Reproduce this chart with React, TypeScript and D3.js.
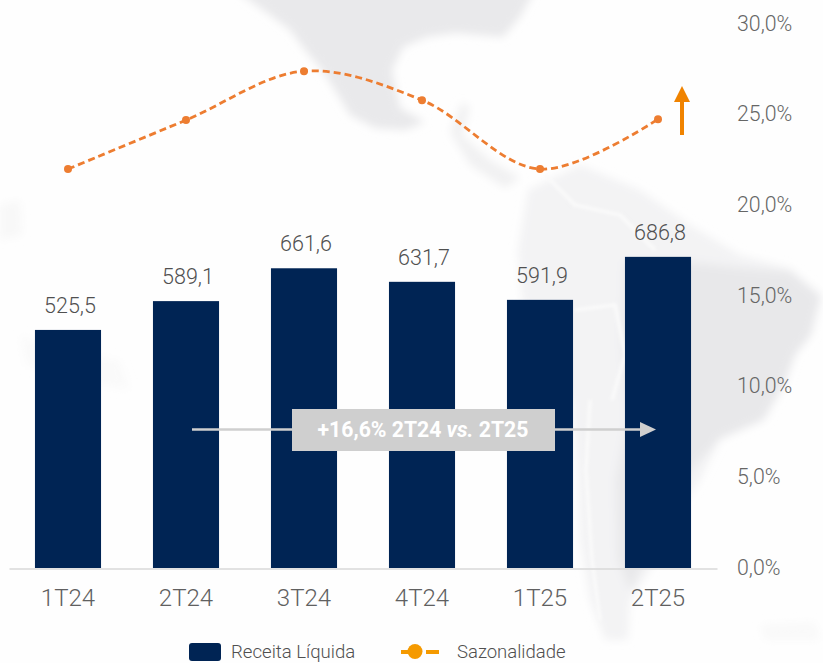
import * as d3 from 'd3'
import { useRef, useEffect } from 'react'

const categories = ['1T24', '2T24', '3T24', '4T24', '1T25', '2T25']
const receita = [525.5, 589.1, 661.6, 631.7, 591.9, 686.8]
const sazonalidade = [22.0, 24.7, 27.4, 25.8, 22.0, 24.75]
const pctTicks = [0, 5, 10, 15, 20, 25, 30]

// background map, rough outlines
const northAmerica: [number, number][] = [[235, -10], [270, 15], [290, 30], [305, 50], [322, 70], [338, 95], [350, 115], [375, 128], [405, 130], [425, 122], [400, 108], [392, 70], [403, 47], [427, 37], [455, 33], [503, 37], [520, 17], [535, -10]]
const centralAmerica: [number, number][] = [[450, 132], [462, 102], [470, 108], [462, 135], [490, 160], [520, 178], [505, 188], [470, 165]]
const southAmerica: [number, number][] = [[528, 190], [580, 165], [640, 190], [690, 225], [740, 255], [790, 268], [822, 295], [812, 335], [795, 355], [785, 385], [765, 420], [720, 440], [700, 480], [672, 520], [650, 570], [630, 600], [628, 640], [605, 640], [590, 600], [580, 540], [578, 480], [572, 400], [548, 360], [522, 300], [518, 250]]
const brazil: [number, number][] = [[625, 262], [690, 262], [740, 268], [790, 272], [820, 297], [810, 335], [795, 355], [783, 385], [762, 420], [720, 438], [690, 470], [665, 510], [645, 560], [630, 590], [618, 560], [616, 480], [628, 420], [622, 340]]
const coastSpecks: [number, number][] = [[20, 335], [60, 350], [120, 360], [130, 390], [100, 385], [60, 375], [25, 365]]
const leftSpeck: [number, number][] = [[0, 205], [20, 200], [22, 235], [0, 240]]
const rightSpeck: [number, number][] = [[760, 625], [815, 622], [820, 640], [765, 640]]
const chileBorder: [number, number][] = [[590, 400], [586, 470], [592, 560], [600, 620]]
const northBorders: [number, number][] = [[545, 175], [575, 205], [620, 215], [655, 250]]
const centralBorder: [number, number][] = [[575, 310], [615, 305], [625, 355], [612, 400]]

export default function App() {
    const svgRef = useRef<SVGSVGElement>(null)
    useEffect(() => {
        const width = 823
        const height = 663
        const fontFamily = 'Roboto, sans-serif'

        const svg = d3.select(svgRef.current)
        svg.selectAll('*').remove()
        svg.attr('width', width)
            .attr('height', height)
            .style('position', 'absolute')
            .style('left', 0)
            .style('top', 0)
            .style('font-family', fontFamily)

        svg.append('rect').attr('width', width).attr('height', height).attr('fill', '#fefefe')

        const defs = svg.append('defs')
        defs.append('filter').attr('id', 'blur')
            .attr('x', '-10%').attr('y', '-10%').attr('width', '120%').attr('height', '120%')
            .append('feGaussianBlur').attr('stdDeviation', 4)
        defs.append('filter').attr('id', 'softBlur')
            .attr('filterUnits', 'userSpaceOnUse')
            .attr('x', 0).attr('y', 0).attr('width', width).attr('height', height)
            .append('feGaussianBlur').attr('stdDeviation', 1.5)

        const mapLine = d3.line().curve(d3.curveLinearClosed)
        const borderLine = d3.line().curve(d3.curveLinear)
        const map = svg.append('g').attr('filter', 'url(#blur)')
        map.append('path').attr('d', mapLine(northAmerica)).attr('fill', '#e9e9eb')
        map.append('path').attr('d', mapLine(centralAmerica)).attr('fill', '#f1f1f2')
        map.append('path').attr('d', mapLine(southAmerica)).attr('fill', '#f3f3f4')
        map.append('path').attr('d', mapLine(brazil)).attr('fill', '#e8e8ea')
        map.append('path').attr('d', mapLine(coastSpecks)).attr('fill', '#fafafa')
        map.append('path').attr('d', mapLine(leftSpeck)).attr('fill', '#f8f8f8')
        map.append('path').attr('d', mapLine(rightSpeck)).attr('fill', '#f9f9f9')
        const borders = [chileBorder, northBorders, centralBorder]
        svg.append('g').attr('filter', 'url(#softBlur)').selectAll('path')
            .data(borders)
            .join('path')
            .attr('d', d => borderLine(d))
            .attr('fill', 'none')
            .attr('stroke', '#fafafa')
            .attr('stroke-width', 3.5)

        const xScale = d3.scaleBand<string>()
            .domain(categories)
            .range([9, 717])
            .paddingInner(0.44)
            .paddingOuter(0.22)
        const yBars = d3.scaleLinear().domain([0, 1203]).range([568, 23])
        const yPct = d3.scaleLinear().domain([0, 30]).range([568, 24])
        const cx = (c: string) => (xScale(c) as number) + xScale.bandwidth() / 2

        const ptBR = d3.formatLocale({ decimal: ',', thousands: '.', grouping: [3], currency: ['R$', ''] })
        const fmt = ptBR.format('.1f')

        // bars
        svg.append('g').selectAll('rect')
            .data(categories)
            .join('rect')
            .attr('x', d => xScale(d) as number)
            .attr('y', (_, i) => yBars(receita[i]))
            .attr('width', xScale.bandwidth())
            .attr('height', (_, i) => 568 - yBars(receita[i]))
            .attr('fill', '#002454')

        svg.append('g').selectAll('text')
            .data(categories)
            .join('text')
            .attr('x', d => cx(d) + 2)
            .attr('y', (_, i) => yBars(receita[i]) - 17)
            .attr('text-anchor', 'middle')
            .attr('font-size', 21.5)
            .attr('font-weight', 300)
            .attr('fill', '#505050')
            .text((_, i) => fmt(receita[i]))

        // x axis
        const xAxis = svg.append('g')
            .attr('transform', 'translate(0,568.5)')
            .call(d3.axisBottom(xScale).tickSize(0).tickPadding(20))
        xAxis.select('.domain').attr('stroke', '#d9d9d9').attr('stroke-width', 1.5)
        xAxis.selectAll('text')
            .attr('font-family', fontFamily)
            .attr('font-size', 24)
            .attr('font-weight', 300)
            .attr('fill', '#606060')

        // right axis, labels left aligned
        const yAxis = svg.append('g')
            .attr('transform', 'translate(737,-0.5)')
            .call(d3.axisRight(yPct).tickValues(pctTicks).tickSize(0).tickPadding(0).tickFormat(d => `${fmt(d as number)}%`))
        yAxis.select('.domain').remove()
        yAxis.selectAll('text')
            .attr('font-family', fontFamily)
            .attr('font-size', 21.3)
            .attr('font-weight', 300)
            .attr('fill', '#666666')

        // seasonality line
        const lineGenerator = d3.line<number>()
            .x((_, i) => cx(categories[i]))
            .y(d => yPct(d))
            .curve(d3.curveCatmullRom.alpha(0.5))
        svg.append('path')
            .attr('d', lineGenerator(sazonalidade))
            .attr('fill', 'none')
            .attr('stroke', '#ed7d31')
            .attr('stroke-width', 2.8)
            .attr('stroke-dasharray', '7 4')
        svg.append('g').selectAll('circle')
            .data(sazonalidade)
            .join('circle')
            .attr('cx', (_, i) => cx(categories[i]))
            .attr('cy', d => yPct(d))
            .attr('r', 4)
            .attr('fill', '#ed7d31')

        // orange arrow
        svg.append('rect').attr('x', 680).attr('y', 100).attr('width', 4).attr('height', 35).attr('fill', '#f08300')
        svg.append('path').attr('d', 'M682,86L690,102L674,102Z').attr('fill', '#f08300')

        // growth annotation
        svg.append('line').attr('x1', 192).attr('x2', 642).attr('y1', 429.5).attr('y2', 429.5)
            .attr('stroke', '#cfcfcf').attr('stroke-width', 2.5)
        svg.append('path').attr('d', 'M640,422L656,429.5L640,437Z').attr('fill', '#cfcfcf')
        svg.append('rect').attr('x', 292).attr('y', 409).attr('width', 263).attr('height', 42).attr('fill', '#cfcfcf')
        const note = svg.append('text')
            .attr('x', 423).attr('y', 436.5)
            .attr('text-anchor', 'middle')
            .attr('font-size', 21.2)
            .attr('font-weight', 700)
            .attr('fill', '#ffffff')
        note.append('tspan').text('+16,6% 2T24 ')
        note.append('tspan').attr('font-style', 'italic').text('vs.')
        note.append('tspan').text(' 2T25')

        // legend
        svg.append('rect').attr('x', 189).attr('y', 643).attr('width', 32).attr('height', 18).attr('rx', 3).attr('fill', '#002454')
        svg.append('text').attr('x', 231).attr('y', 658)
            .attr('font-size', 18.6).attr('font-weight', 300).attr('fill', '#505050').text('Receita Líquida')
        svg.append('line').attr('x1', 401).attr('x2', 422).attr('y1', 652).attr('y2', 652).attr('stroke', '#f59a00').attr('stroke-width', 4)
        svg.append('line').attr('x1', 426).attr('x2', 439).attr('y1', 652).attr('y2', 652).attr('stroke', '#f59a00').attr('stroke-width', 4)
        svg.append('circle').attr('cx', 415).attr('cy', 651.5).attr('r', 7.5).attr('fill', '#f59a00')
        svg.append('text').attr('x', 457).attr('y', 658)
            .attr('font-size', 18.5).attr('font-weight', 300).attr('fill', '#505050').text('Sazonalidade')
    }, [])
    return (
        <svg ref={svgRef}></svg>
    )
}
